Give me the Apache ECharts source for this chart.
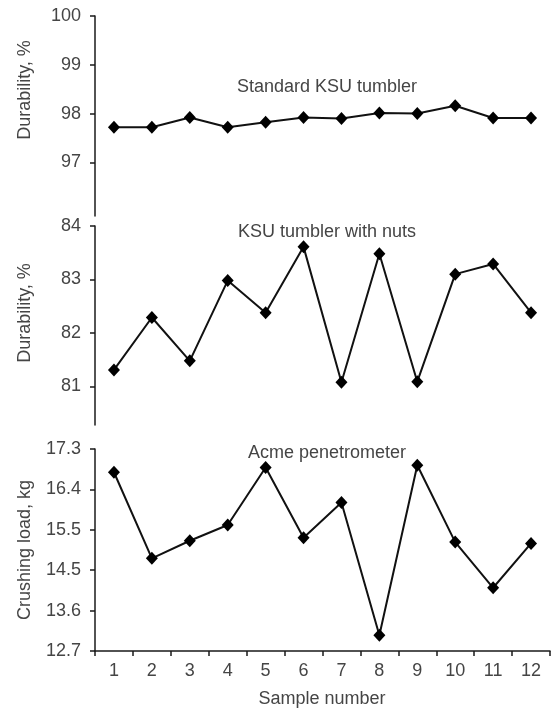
<!DOCTYPE html>
<html>
<head>
<meta charset="utf-8">
<script src="https://cdn.jsdelivr.net/npm/echarts@6/dist/echarts.min.js"></script>
<style>
html,body{margin:0;padding:0;background:#fff;}
#chart{width:554px;height:713px;}
</style>
</head>
<body>
<div id="chart"></div>
<script>
// ---- data ----
var samples = ['1','2','3','4','5','6','7','8','9','10','11','12'];
var standardKSU = [97.72, 97.72, 97.92, 97.72, 97.82, 97.92, 97.90, 98.01, 98.00, 98.16, 97.91, 97.91];
var ksuWithNuts = [81.31, 82.29, 81.48, 82.98, 82.38, 83.61, 81.08, 83.48, 81.09, 83.10, 83.29, 82.38];
var acmeLoad    = [16.77, 14.81, 15.21, 15.57, 16.88, 15.28, 16.08, 13.06, 16.93, 15.18, 14.14, 15.15];
var topTicks = [97, 98, 99, 100];
var midTicks = [81, 82, 83, 84];
var botTicks = [12.7, 13.62, 14.54, 15.46, 16.38, 17.3];
var panelTitles = ['Standard KSU tumbler', 'KSU tumbler with nuts', 'Acme penetrometer'];
var yTitles = ['Durability, %', 'Durability, %', 'Crushing load, kg'];
var xTitle = 'Sample number';

// ---- styling ----
var FONT = "'Liberation Sans', Arial, sans-serif";
var TXT = '#454545';
var AX = '#1a1a1a';
var FS = 18;

var grids = [
  {left: 95, right: 4, top: 16, height: 200},
  {left: 95, right: 4, top: 226, height: 199},
  {left: 95, right: 4, top: 449, height: 202}
];

function yAxis(idx, min, max, ticks, fmt) {
  return {
    type: 'value', gridIndex: idx, min: min, max: max,
    splitLine: {show: false},
    axisLine: {show: true, lineStyle: {color: AX, width: 1.5}},
    axisTick: {show: true, inside: false, length: 5, customValues: ticks, lineStyle: {color: AX, width: 1.5}},
    axisLabel: {show: true, customValues: ticks, margin: 14, color: TXT, fontFamily: FONT, fontSize: FS,
      formatter: fmt}
  };
}
function xAxis(idx, show) {
  return {
    type: 'category', gridIndex: idx, data: samples, boundaryGap: true,
    show: show,
    axisLine: {show: show, onZero: false, lineStyle: {color: AX, width: 1.5}},
    axisTick: {show: show, alignWithLabel: false, interval: 0, inside: false, length: 5, lineStyle: {color: AX, width: 1.5}},
    axisLabel: {show: show, interval: 0, margin: 11, color: TXT, fontFamily: FONT, fontSize: FS},
    splitLine: {show: false}
  };
}
function series(idx, data) {
  return {
    type: 'line', xAxisIndex: idx, yAxisIndex: idx, data: data,
    symbol: 'diamond', symbolSize: [12, 13], showSymbol: true,
    lineStyle: {color: '#111', width: 2},
    itemStyle: {color: '#000'},
    animation: false, silent: true
  };
}

var titleX = 322;
var titleStyle = {color: TXT, fontFamily: FONT, fontSize: FS, fontWeight: 'normal'};
var option = {
  backgroundColor: '#fff',
  animation: false,
  grid: grids,
  title: [
    {text: panelTitles[0], left: titleX, top: 73, textAlign: 'center', textStyle: titleStyle},
    {text: panelTitles[1], left: titleX, top: 218, textAlign: 'center', textStyle: titleStyle},
    {text: panelTitles[2], left: titleX, top: 439, textAlign: 'center', textStyle: titleStyle}
  ],
  xAxis: [xAxis(0, false), xAxis(1, false), xAxis(2, true)],
  yAxis: [
    yAxis(0, 95.9, 100, topTicks, function(v){return String(Math.round(v));}),
    yAxis(1, 80.28, 84, midTicks, function(v){return String(Math.round(v));}),
    yAxis(2, 12.7, 17.3, botTicks, function(v){return v.toFixed(1);})
  ],
  series: [series(0, standardKSU), series(1, ksuWithNuts), series(2, acmeLoad)],
  graphic: [
    {type: 'text', x: 25, y: 90, rotation: Math.PI/2, style: {text: yTitles[0], fill: TXT, font: FS + 'px ' + FONT, align: 'center', verticalAlign: 'middle'}},
    {type: 'text', x: 25, y: 313, rotation: Math.PI/2, style: {text: yTitles[1], fill: TXT, font: FS + 'px ' + FONT, align: 'center', verticalAlign: 'middle'}},
    {type: 'text', x: 25, y: 550, rotation: Math.PI/2, style: {text: yTitles[2], fill: TXT, font: FS + 'px ' + FONT, align: 'center', verticalAlign: 'middle'}},
    {type: 'text', x: 322, y: 699, style: {text: xTitle, fill: TXT, font: FS + 'px ' + FONT, align: 'center', verticalAlign: 'middle'}}
  ]
};
var chart = echarts.init(document.getElementById('chart'), null, {renderer: 'canvas'});
chart.setOption(option);
</script>
</body>
</html>
